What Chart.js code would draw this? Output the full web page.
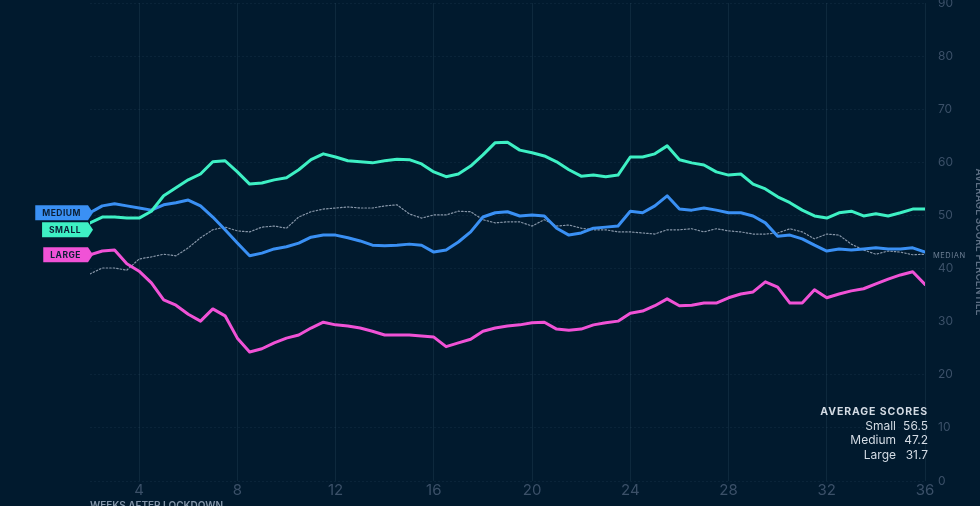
<!DOCTYPE html>
<html>
<head>
<meta charset="utf-8">
<script src="https://cdn.jsdelivr.net/npm/chart.js@4"></script>
<style>
  html, body { margin: 0; padding: 0; background: #011a2e; }
  body { width: 980px; height: 506px; overflow: hidden; position: relative; }
  #wrap { position: absolute; left: 0; top: -10px; }
</style>
</head>
<body>
<div id="wrap"><canvas id="scoreChart" width="985" height="522"></canvas></div>
<script>
// weeks after start, one point every half week
const weeks = [2, 2.5, 3, 3.5, 4, 4.5, 5, 5.5, 6, 6.5, 7, 7.5, 8, 8.5, 9, 9.5, 10, 10.5, 11, 11.5,
    12, 12.5, 13, 13.5, 14, 14.5, 15, 15.5, 16, 16.5, 17, 17.5, 18, 18.5, 19, 19.5, 20, 20.5, 21, 21.5,
    22, 22.5, 23, 23.5, 24, 24.5, 25, 25.5, 26, 26.5, 27, 27.5, 28, 28.5, 29, 29.5, 30, 30.5, 31, 31.5,
    32, 32.5, 33, 33.5, 34, 34.5, 35, 35.5, 36];

const small = [48.6, 49.7, 49.7, 49.5, 49.5, 50.8, 53.7, 55.2, 56.7, 57.8, 60.1, 60.3, 58.2, 55.9, 56.1,
    56.7, 57.1, 58.6, 60.5, 61.6, 61.0, 60.3, 60.1, 59.9, 60.3, 60.6, 60.5, 59.7, 58.2, 57.3, 57.8, 59.3,
    61.4, 63.7, 63.8, 62.3, 61.8, 61.2, 60.1, 58.6, 57.4, 57.6, 57.3, 57.6, 61.0, 61.0, 61.6, 63.1, 60.5,
    59.9, 59.5, 58.2, 57.6, 57.8, 55.9, 55.0, 53.5, 52.4, 51.0, 49.9, 49.5, 50.5, 50.8, 49.9, 50.3, 49.9,
    50.5, 51.2, 51.2];

const medium = [50.5, 51.8, 52.2, 51.8, 51.4, 51.0, 52.0, 52.4, 52.9, 51.8, 49.7, 47.3, 44.8, 42.4, 42.9,
    43.7, 44.1, 44.8, 45.9, 46.3, 46.3, 45.8, 45.2, 44.4, 44.3, 44.4, 44.6, 44.4, 43.1, 43.5, 45.0, 46.9,
    49.7, 50.5, 50.7, 49.9, 50.1, 49.9, 47.6, 46.3, 46.7, 47.6, 47.8, 48.0, 50.8, 50.5, 51.8, 53.7, 51.2,
    51.0, 51.4, 51.0, 50.5, 50.5, 49.9, 48.6, 46.1, 46.3, 45.6, 44.4, 43.3, 43.7, 43.5, 43.7, 43.9, 43.7,
    43.7, 43.9, 43.1];

const large = [42.6, 43.3, 43.5, 40.9, 39.5, 37.3, 34.1, 33.1, 31.4, 30.1, 32.4, 31.1, 26.9, 24.3, 24.9,
    26.0, 26.9, 27.5, 28.8, 29.9, 29.4, 29.2, 28.8, 28.2, 27.5, 27.5, 27.5, 27.3, 27.1, 25.3, 26.0, 26.7,
    28.2, 28.8, 29.2, 29.4, 29.8, 29.9, 28.6, 28.4, 28.6, 29.4, 29.8, 30.1, 31.6, 32.0, 33.0, 34.3, 33.0,
    33.1, 33.5, 33.5, 34.5, 35.2, 35.6, 37.5, 36.5, 33.5, 33.5, 36.0, 34.5, 35.2, 35.8, 36.2, 37.1, 38.0,
    38.8, 39.4, 37.0];

const median = [39.0, 40.1, 40.1, 39.7, 41.8, 42.2, 42.7, 42.4, 43.9, 45.8, 47.3, 47.8, 47.1, 46.9, 47.8,
    48.0, 47.6, 49.7, 50.7, 51.2, 51.4, 51.6, 51.4, 51.4, 51.8, 52.0, 50.3, 49.5, 50.1, 50.1, 50.8, 50.7,
    49.2, 48.6, 48.8, 48.8, 48.0, 49.2, 48.0, 48.2, 47.6, 47.3, 47.3, 46.9, 46.9, 46.7, 46.5, 47.3, 47.3,
    47.5, 46.9, 47.5, 47.1, 46.9, 46.5, 46.5, 46.7, 47.5, 46.9, 45.6, 46.5, 46.3, 44.6, 43.5, 42.7, 43.3,
    43.1, 42.6, 42.7];

const seriesNames = ['Small', 'Medium', 'Large'];
const averages = [56.5, 47.2, 31.7];
const xTicks = [4, 8, 12, 16, 20, 24, 28, 32, 36];
const yTicks = [0, 10, 20, 30, 40, 50, 60, 70, 80, 90];

const COLORS = { small: '#3ef0c4', medium: '#3a90f4', large: '#f052d6', median: '#8796a8' };
const FONT = 'Inter, "Noto Sans", sans-serif';

const pts = arr => weeks.map((w, i) => ({ x: w, y: arr[i] }));

// tags on the left, MEDIAN label, average box
const labelsPlugin = {
    id: 'labels',
    afterDatasetsDraw(chart) {
        const ctx = chart.ctx;
        const y = chart.scales.y;
        const area = chart.chartArea;

        // left tags, pushed apart if they collide
        const tags = [
            { text: 'MEDIUM', color: COLORS.medium, v: medium[0] },
            { text: 'SMALL', color: COLORS.small, v: small[0] },
            { text: 'LARGE', color: COLORS.large, v: large[0] }
        ].map(t => ({ ...t, py: y.getPixelForValue(t.v) }));
        tags.sort((a, b) => a.py - b.py);
        for (let i = 1; i < tags.length; i++) {
            if (tags[i].py - tags[i - 1].py < 17) tags[i].py = tags[i - 1].py + 17;
        }
        ctx.save();
        ctx.font = 'bold 8.5px ' + FONT;
        ctx.letterSpacing = '0.5px';
        ctx.textAlign = 'center';
        ctx.textBaseline = 'middle';
        tags.forEach(t => {
            const h = 15;
            const x1 = area.left - 2;
            const w = Math.max(43, ctx.measureText(t.text).width + 14);
            const x0 = x1 - w;
            ctx.fillStyle = t.color;
            ctx.beginPath();
            ctx.moveTo(x0, t.py - h / 2);
            ctx.lineTo(x1, t.py - h / 2);
            ctx.lineTo(x1 + 5, t.py);
            ctx.lineTo(x1, t.py + h / 2);
            ctx.lineTo(x0, t.py + h / 2);
            ctx.closePath();
            ctx.fill();
            ctx.fillStyle = '#0b1f36';
            ctx.fillText(t.text, x0 + w / 2, t.py + 0.5);
        });

        // MEDIAN label at the end of the dotted line
        const x = chart.scales.x;
        ctx.font = '7.5px ' + FONT;
        ctx.letterSpacing = '0.5px';
        ctx.textAlign = 'left';
        ctx.fillStyle = '#6d7f94';
        ctx.fillText('MEDIAN', x.getPixelForValue(weeks[weeks.length - 1]) + 8,
            y.getPixelForValue(median[median.length - 1]) + 2);

        // average scores box
        const right = area.right + 3;
        let ty = area.bottom - 69;
        ctx.textAlign = 'right';
        ctx.fillStyle = '#d3dbe4';
        ctx.font = 'bold 10.5px ' + FONT;
        ctx.letterSpacing = '0.9px';
        ctx.fillText('AVERAGE SCORES', right, ty);
        ctx.font = '12px ' + FONT;
        ctx.letterSpacing = '0px';
        seriesNames.forEach((name, i) => {
            ty += 14.3;
            ctx.fillText(averages[i].toFixed(1), right, ty);
            ctx.fillText(name, right - 32, ty);
        });
        ctx.restore();
    }
};

new Chart(document.getElementById('scoreChart').getContext('2d'), {
    type: 'line',
    data: {
        datasets: [
            { label: 'Small', data: pts(small), borderColor: COLORS.small, borderWidth: 3 },
            { label: 'Medium', data: pts(medium), borderColor: COLORS.medium, borderWidth: 3 },
            { label: 'Large', data: pts(large), borderColor: COLORS.large, borderWidth: 3 },
            { label: 'Median', data: pts(median), borderColor: COLORS.median, borderWidth: 1.2,
              borderDash: [1.5, 2] }
        ]
    },
    options: {
        responsive: false,
        animation: false,
        events: [],
        elements: {
            point: { radius: 0 },
            line: { tension: 0, fill: false, borderJoinStyle: 'round', borderCapStyle: 'round' }
        },
        layout: { padding: { left: 90, top: 13, right: 0, bottom: 0 } },
        plugins: { legend: { display: false }, tooltip: { enabled: false } },
        scales: {
            x: {
                type: 'linear',
                min: 2,
                max: 36,
                afterBuildTicks: s => { s.ticks = xTicks.map(v => ({ value: v })); },
                afterFit: s => { s.height = 31; s.paddingLeft = 0; s.paddingRight = 0; },
                grid: { color: 'rgba(130,160,190,0.11)', drawTicks: false },
                border: { display: false },
                ticks: { color: '#3b5068', padding: 0, font: { family: FONT, size: 15 } },
                title: {
                    display: true, align: 'start', text: 'WEEKS AFTER LOCKDOWN',
                    color: '#8294a8', font: { family: FONT, size: 10, weight: '600' }, padding: 0
                }
            },
            y: {
                position: 'right',
                min: 0,
                max: 90,
                afterBuildTicks: s => { s.ticks = yTicks.map(v => ({ value: v })); },
                afterFit: s => { s.width = 60; s.paddingTop = 0; s.paddingBottom = 0; },
                grid: { color: 'rgba(130,160,190,0.08)', drawTicks: false },
                border: { display: false, dash: [2, 2] },
                ticks: { color: '#3b5068', padding: 13, font: { family: FONT, size: 12 } },
                title: {
                    display: true, text: 'AVERAGE SCORE PERCENTILE',
                    color: '#5d6f84', font: { family: FONT, size: 10, weight: '600' }, padding: 0
                }
            }
        }
    },
    plugins: [labelsPlugin]
});
</script>
</body>
</html>
